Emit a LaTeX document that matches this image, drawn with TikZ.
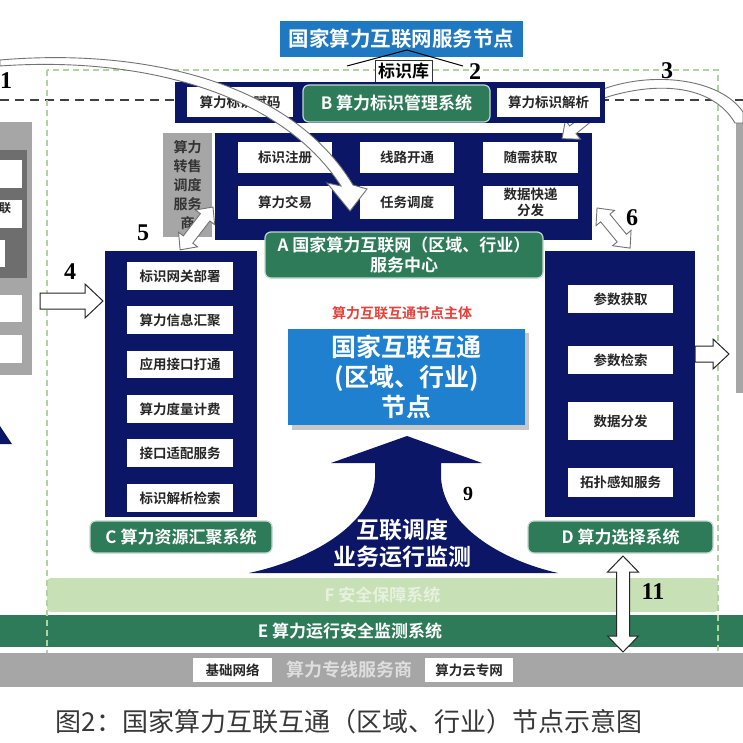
\documentclass[tikz,border=0pt]{standalone}
\usepackage{fontspec}
\setmainfont{Noto Sans CJK SC}[BoldFont={Noto Sans CJK SC Bold}]
\newfontfamily\numfont{Liberation Serif}
\usetikzlibrary{calc}
\definecolor{navy}{HTML}{0B1766}
\definecolor{sgreen}{HTML}{2E7B5A}
\definecolor{lgreen}{HTML}{C8E0B6}
\definecolor{nblue}{HTML}{1E78C2}
\definecolor{cblue}{HTML}{1F80D0}
\definecolor{pgray}{HTML}{A6A6A6}
\definecolor{dgray}{HTML}{6E6E6E}
\definecolor{dashg}{HTML}{B3D2A2}
\definecolor{redtxt}{HTML}{E5403A}
\newcommand\myfs[2]{\fontsize{#1}{#2}\selectfont}
\newcommand\rbox[7]{\node[#2, minimum width={(#5)-(#3)}, minimum height={(#6)-(#4)}] (#1) at ({((#3)+(#5))/2},{((#4)+(#6))/2}) {#7};}
\newcommand\sarrow[8]{\begin{scope}[shift={(#2,#3)},rotate=#4]\draw[#1] (0,-#6) -- ({#5-#8},-#6) -- ({#5-#8},-#7) -- (#5,0) -- ({#5-#8},#7) -- ({#5-#8},#6) -- (0,#6) -- cycle;\end{scope}}
\newcommand\darrow[8]{\begin{scope}[shift={(#2,#3)},rotate=#4]\draw[#1] (0,0) -- (#8,-#7) -- (#8,-#6) -- ({#5-#8},-#6) -- ({#5-#8},-#7) -- (#5,0) -- ({#5-#8},#7) -- ({#5-#8},#6) -- (#8,#6) -- (#8,#7) -- cycle;\end{scope}}
\begin{document}
\begin{tikzpicture}[x=1pt,y=-1pt,
  wbox/.style={fill=white, text=black!85, font=\bfseries\myfs{13.5}{16}, inner sep=0pt, align=center},
  gbox/.style={fill=sgreen, draw=white!70!sgreen, line width=1.2pt, rounded corners=6pt, text=white, font=\bfseries\myfs{17}{20}, inner sep=0pt, align=center},
  navyblk/.style={fill=navy, inner sep=0pt},
  numlbl/.style={font=\numfont\bfseries\myfs{24}{24}, inner sep=0pt},
  smlbl/.style={font=\numfont\bfseries\myfs{20}{20}, inner sep=0pt},
  harrow/.style={fill=white, draw=black!85, line width=1pt, line join=miter},
  garrow/.style={fill=white, draw=black!55, line width=0.9pt, line join=miter},
  gdash/.style={draw=dashg, line width=2pt, dash pattern=on 6pt off 4pt},
  kdash/.style={draw=black!75, line width=1.6pt, dash pattern=on 9pt off 6pt}]
\useasboundingbox (0,0) rectangle (743,743);
\fill[white] (0,0) rectangle (743,743);
% black dashed line
\draw[kdash] (0,100) -- (175,100);
\draw[kdash] (600,100) -- (743,100);
% side panels
\fill[pgray] (0,122) rectangle (32,375);
\fill[dgray] (0,150) rectangle (27,278);
\fill[white] (0,160) rectangle (22,188);
\fill[white] (0,200) rectangle (22,228);
\fill[white] (0,240) rectangle (5,267);
\fill[white] (0,295) rectangle (22,322);
\fill[white] (0,335) rectangle (22,363);
\node[font=\bfseries\myfs{12}{12}, text=black!85, inner sep=0pt] (lian) at (5,208) {联};
\fill[navy] (0,426) -- (12,444) -- (0,444) -- cycle;
\fill[pgray] (736,123) rectangle (743,393);
% bands
\rbox{F}{fill=lgreen, rounded corners=4pt, text=white!55!lgreen, font=\bfseries\myfs{17}{17}, inner sep=0pt}{47}{578}{718}{612}{F 安全保障系统}
\rbox{E}{fill=sgreen, inner sep=0pt}{0}{615}{743}{647}{}
\node[text=white, font=\bfseries\myfs{17}{17}, inner sep=0pt] (Etxt) at (350,631) {E 算力运行安全监测系统};
% green dashed frame
\draw[gdash] (47,70) rectangle (718,660);
\fill[pgray] (0,653) rectangle (743,687);
\rbox{jc}{wbox}{193}{658}{272}{682}{基础网络}
\node[font=\bfseries\myfs{18}{18}, text=black!13, inner sep=0pt] (zx) at (349,670) {算力专线服务商};
\rbox{yzw}{wbox}{425}{658}{513}{682}{算力云专网}
% top node
\rbox{top}{fill=nblue, text=white, font=\bfseries\myfs{20.5}{22}, inner sep=0pt}{280}{21}{523}{57}{国家算力互联网服务节点}
\draw[black, line width=1pt] (347,66) -- (407,50) -- (463,66);
\rbox{bsk}{fill=white, draw=black!80, line width=0.8pt, text=black, font=\bfseries\myfs{17}{17}, inner sep=0pt}{375}{60}{432}{82}{标识库}
\node[numlbl] (n2) at (475,72) {2};
\node[numlbl] (n3) at (667,71) {3};
% A block
\rbox{Ablk}{navyblk}{215}{133}{592}{240}{}
\rbox{a1}{wbox}{238}{142}{332}{173}{标识注册}
\rbox{a2}{wbox}{360}{142}{454}{173}{线路开通}
\rbox{a3}{wbox}{483}{142}{578}{173}{随需获取}
\rbox{a4}{wbox}{238}{186}{332}{219}{算力交易}
\rbox{a5}{wbox}{360}{186}{454}{219}{任务调度}
\rbox{a6}{wbox}{483}{186}{578}{219}{数据快递\\分发}
% curved arrow 3
\draw[garrow] (743,112) .. controls (720,78) and (650,70) .. (598,91) -- (598,100) .. controls (655,80) and (712,84) .. (735,123) -- (743,123) -- cycle;
\sarrow{garrow}{590}{116}{219}{36}{5}{12}{14}
% B bar
\rbox{Bblk}{navyblk}{175}{82}{605}{123}{}
\rbox{b1}{wbox}{187}{87}{293}{117}{算力标识赋码}
\rbox{B}{gbox}{303}{85}{490}{122}{B 算力标识管理系统}
\rbox{b3}{wbox}{497}{88}{600}{117}{算力标识解析}
% reseller
\rbox{rs}{fill=pgray, text=black!80, font=\bfseries\myfs{14}{19}, inner sep=0pt, align=center}{163}{133}{212}{237}{算力\\转售\\调度\\服务\\商}
% A label
\rbox{A}{gbox}{265}{232}{543}{278}{A 国家算力互联网（区域、行业）\\服务中心}
% C block
\rbox{Cblk}{navyblk}{105}{251}{257}{517}{}
\rbox{c1}{wbox}{127}{262}{233}{290}{标识网关部署}
\rbox{c2}{wbox}{127}{306}{233}{334}{算力信息汇聚}
\rbox{c3}{wbox}{127}{351}{233}{378}{应用接口打通}
\rbox{c4}{wbox}{127}{395}{233}{423}{算力度量计费}
\rbox{c5}{wbox}{127}{439}{233}{467}{接口适配服务}
\rbox{c6}{wbox}{127}{484}{233}{512}{标识解析检索}
\rbox{C}{gbox}{90}{521}{272}{553}{C 算力资源汇聚系统}
% D block
\rbox{Dblk}{navyblk}{545}{251}{695}{517}{}
\rbox{d1}{wbox}{568}{285}{673}{313}{参数获取}
\rbox{d2}{wbox}{568}{346}{673}{374}{参数检索}
\rbox{d3}{wbox}{568}{402}{673}{440}{数据分发}
\rbox{d4}{wbox}{568}{468}{673}{497}{拓扑感知服务}
\rbox{D}{gbox}{528}{521}{713}{553}{D 算力选择系统}
% hollow arrows
\sarrow{harrow}{40}{301}{0}{63}{8}{17}{18}
\sarrow{harrow}{695}{354}{0}{34}{8}{15}{16}
\darrow{garrow}{213}{207}{232.5}{54}{6}{12}{13}
\darrow{garrow}{597}{208}{-50.5}{52}{6}{12}{13}
\darrow{harrow}{623}{556}{-90}{96}{6.5}{15.5}{16}
\node[numlbl] (n4) at (70,272) {4};
\node[numlbl] (n5) at (143,233) {5};
\node[numlbl] (n6) at (632,218) {6};
\node[numlbl] (n11) at (653,592) {11};
% centre
\node[text=redtxt, font=\bfseries\myfs{14}{14}, inner sep=0pt] (red) at (402,313) {算力互联互通节点主体};
\fill[black!22] (292,333) rectangle (529,430);
\rbox{ctr}{fill=cblue, text=white, font=\bfseries\myfs{25}{30}, inner sep=0pt, align=center}{288}{329}{525}{425}{国家互联互通\\(区域、行业)\\节点}
% big arrow 9
\fill[navy] (407,436) -- (482,463) -- (441,463) -- (441,478) .. controls (444,525) and (500,560) .. (558,573) -- (249,573) .. controls (310,560) and (372,525) .. (375,478) -- (375,463) -- (331,463) -- cycle;
\node[text=white, font=\bfseries\myfs{23}{27}, inner sep=0pt, align=center] (arrtxt) at (402,543) {互联调度\\业务运行监测};
\node[smlbl] (n9) at (468,494) {9};
% curved arrow 1
\draw[garrow] (0,60) .. controls (140,48) and (290,80) .. (353,185) -- (367,189) -- (350,211) -- (327,183) -- (341,186) .. controls (280,92) and (140,56) .. (0,66) -- cycle;
\node[numlbl] (n1) at (6,81) {1};
% caption
\node[text=black!78, font=\myfs{26}{26}, inner sep=0pt] (cap) at (349,722) {图2：国家算力互联互通（区域、行业）节点示意图};
\end{tikzpicture}
\end{document}
